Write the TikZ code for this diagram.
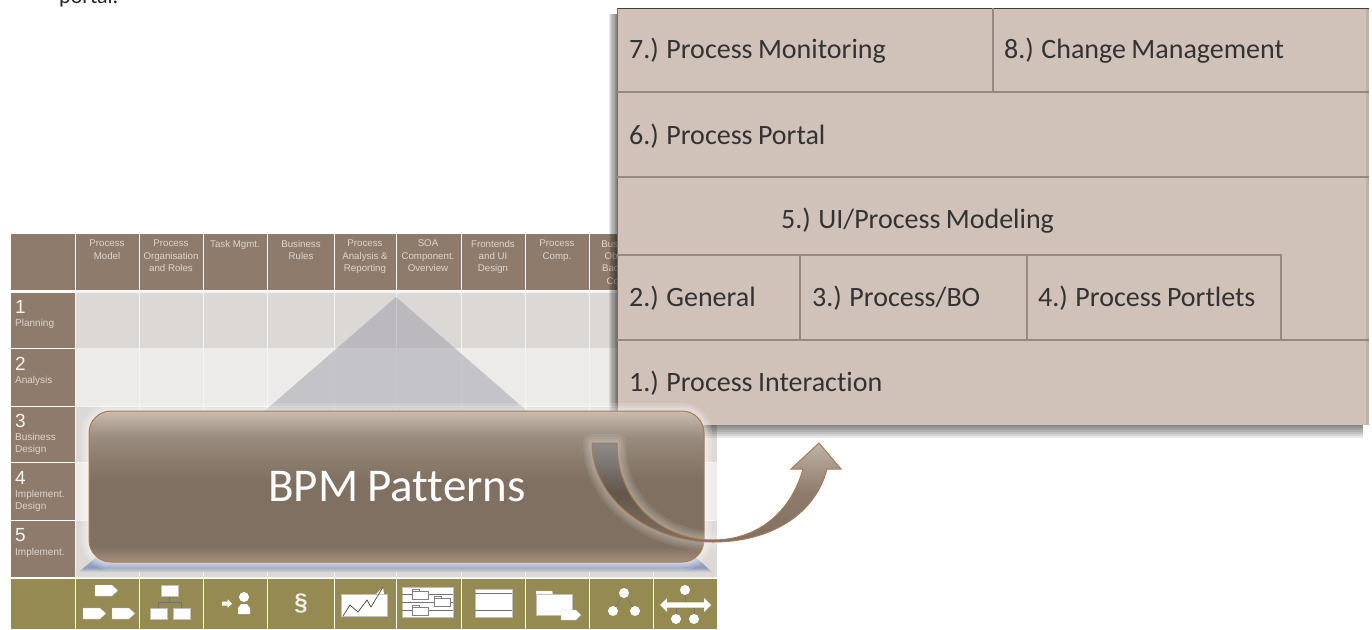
\documentclass[tikz,border=0pt]{standalone}
\usepackage{fontspec}
\setmainfont[Ligatures=NoCommon,WordSpace=0.85]{Carlito}
\newfontfamily\gridfont{Liberation Sans}
\usetikzlibrary{shapes.arrows,shapes.symbols}

\definecolor{headbrown}{HTML}{8F7B6B}
\definecolor{rowdark}{HTML}{DCD8D5}
\definecolor{rowlight}{HTML}{ECEBE9}
\definecolor{rowgap}{HTML}{F4F3F1}
\definecolor{olive}{HTML}{948A52}
\definecolor{panelfill}{HTML}{D0C1B9}
\definecolor{panelline}{HTML}{948A7E}
\definecolor{rimbrown}{HTML}{A87B50}
\definecolor{gridtext}{HTML}{DDD5CD}
\definecolor{pyramid}{HTML}{9C9CA8}
\definecolor{baseblue}{HTML}{8C9ABB}
\definecolor{boxtop}{HTML}{C9BCB1}
\definecolor{boxmid}{HTML}{988A7C}
\definecolor{boxdark}{HTML}{7F7061}
\definecolor{boxlow}{HTML}{A98F7E}

\pgfdeclareverticalshading{boxshade}{100bp}{color(0bp)=(boxlow);color(25bp)=(boxlow);color(30bp)=(boxdark);
  color(52bp)=(boxdark);color(66bp)=(boxmid);color(75bp)=(boxtop);color(100bp)=(boxtop)}
\pgfdeclareverticalshading{archleft}{100bp}{color(0bp)=(boxdark);color(25bp)=(boxdark);
  color(50bp)=(headbrown!70!black);color(75bp)=(black!45);color(100bp)=(black!45)}
\pgfdeclareverticalshading{archright}{100bp}{color(0bp)=(boxdark);color(25bp)=(boxdark);
  color(50bp)=(headbrown);color(75bp)=(boxtop!95!black);color(100bp)=(boxtop!95!black)}
\pgfdeclareverticalshading{baseshade}{100bp}{color(0bp)=(rowdark);color(25bp)=(rowdark);
  color(38bp)=(baseblue);color(75bp)=(baseblue!70!white);color(100bp)=(baseblue!70!white)}

\tikzset{
  headcell/.style={fill=headbrown,draw=none},
  gridlabel/.style={font=\gridfont\fontsize{9.7}{12.3}\selectfont,text=gridtext,align=center,anchor=north,inner sep=0pt},
  rownum/.style={font=\gridfont\fontsize{19}{19}\selectfont,text=white!92!headbrown,anchor=west,inner sep=0pt},
  rowname/.style={font=\gridfont\fontsize{10}{12.3}\selectfont,text=gridtext,align=left,anchor=north west,inner sep=0pt},
  paneltext/.style={font=\fontsize{28}{28}\selectfont,text=black!80,anchor=west,inner sep=0pt},
  panelrule/.style={draw=panelline,line width=1.3pt},
  iconwhite/.style={fill=white,draw=black!25,line width=.4pt},
  iconline/.style={draw=black!55,line width=.5pt},
}

\begin{document}
\begin{tikzpicture}[x=1pt,y=-1pt]
  \clip (0,0) rectangle (1372,629);
  \fill[white] (0,0) rectangle (1372,629);
  \node[font=\fontsize{22}{22}\selectfont,text=black!85,anchor=base west,inner sep=0pt] (portal) at (59,3) {portal.};

  % grid
  \fill[rowgap] (75,291) rectangle (717,578);
  \fill[headcell] (11,234) rectangle (74.5,290);
  \foreach \l/\r in {76/138.5,140/202.5,204/266.5,268/333.5,335/395.5,397/460.5,462/524.5,526/588.5,590/652.5,654/717}{
    \fill[headcell] (\l,234) rectangle (\r,290);
    \fill[rowdark] (\l,293) rectangle (\r,348);
    \fill[rowlight] (\l,348) rectangle (\r,406);
    \fill[rowdark] (\l,406.5) rectangle (\r,462);
    \fill[rowlight] (\l,462.5) rectangle (\r,520);
    \fill[rowdark] (\l,520.5) rectangle (\r,577);
    \fill[olive] (\l,578.5) rectangle (\r,629);
  }
  \fill[olive] (11,578.5) rectangle (74.5,629);
  \foreach \t/\b in {293/348,348.7/406,406.7/462,462.7/520,520.7/577}
    \fill[headcell] (11,\t) rectangle (74.5,\b);

  \node[gridlabel] (hmodel) at (107,240) {Process\\Model};
  \node[gridlabel] (horga) at (171,240) {Process\\Organisation\\and Roles};
  \node[gridlabel] (htask) at (235,240) {Task Mgmt.};
  \node[gridlabel] (hrules) at (301,240) {Business\\Rules};
  \node[gridlabel] (hreport) at (365,240) {Process\\Analysis \&\\Reporting};
  \node[gridlabel] (hsoa) at (428,240) {SOA\\Component.\\Overview};
  \node[gridlabel] (hfront) at (493,240) {Frontends\\and UI\\Design};
  \node[gridlabel] (hcomp) at (557,240) {Process\\Comp.};
  \node[gridlabel] (hback) at (621,240) {Business\\Objects\\Backend\\Comp.};

  \node[rownum] (n1) at (15,307) {1};
  \node[rowname] (r1) at (15,319) {Planning};
  \node[rownum] (n2) at (15,364) {2};
  \node[rowname] (r2) at (15,376) {Analysis};
  \node[rownum] (n3) at (15,421) {3};
  \node[rowname] (r3) at (15,433) {Business\\Design};
  \node[rownum] (n4) at (15,478) {4};
  \node[rowname] (r4) at (15,490) {Implement.\\Design};
  \node[rownum] (n5) at (15,535) {5};
  \node[rowname] (r5) at (15,548) {Implement.};

  % pyramid
  \fill[pyramid,opacity=.5] (396,297) -- (712,572) -- (79,572) -- cycle;
  \shade[shading=baseshade] (99,555) -- (693,555) -- (712,572) -- (79,572) -- cycle;

  % icons
  \foreach \x/\y in {95/585,83/608,112/608}
    \fill[iconwhite] (\x,\y) -- ++(17,0) -- ++(6,5.5) -- ++(-6,5.5) -- ++(-17,0) -- cycle;
  \draw[iconline] (169.5,596) -- (169.5,602) (158,608) -- (158,602) -- (181,602) -- (181,608);
  \fill[iconwhite] (161,585) rectangle (178,596);
  \fill[iconwhite] (150,608) rectangle (167,619);
  \fill[iconwhite] (173,608) rectangle (190,619);
  \node[single arrow,fill=white,draw=none,minimum width=9pt,minimum height=10pt,inner sep=1pt,
    single arrow head extend=1.5pt] (taskarrow) at (226,603.5) {};
  \fill[white] (244,597) circle (5);
  \fill[white] (238,614) -- (238,608) -- (241,604) -- (247,604) -- (250,608) -- (250,614) -- cycle;
  \node[font=\gridfont\bfseries\fontsize{24}{24}\selectfont,text=white!85!olive] (para) at (301,603) {\S};
  \fill[iconwhite] (341,594) rectangle (387,616);
  \fill[white] (376,594) -- (383,587) -- (384,594) -- cycle;
  \draw[olive!50!black,line width=.7pt] (343,616) -- (350,605) -- (358,612) -- (367,600) -- (371,607) -- (383,587);
  \fill[iconwhite] (402,587) rectangle (453,617);
  \foreach \y in {594,602,610}
    \draw[iconline] (402,\y) -- (453,\y);
  \foreach \x/\y in {412/591,434/598,412/607}{
    \fill[iconwhite,draw=black!50] (\x,\y) rectangle ++(16,8);
    \fill[iconwhite,draw=black!50] (\x,\y) rectangle ++(7,-2);
  }
  \fill[iconwhite] (475,589) rectangle (512,617);
  \draw[iconline] (475,593) -- (512,593) (475,610) -- (512,610);
  \fill[iconwhite] (536,594) rectangle (572,615);
  \fill[iconwhite] (536,594) -- (536,591) -- (552,591) -- (553,594) -- cycle;
  \fill[iconwhite] (561,610) -- ++(15,0) -- ++(5,5) -- ++(-5,5) -- ++(-15,0) -- cycle;
  \draw[iconline] (613,611) -- (624,593) -- (635,611);
  \foreach \x/\y in {624/593,613/611,635/611}
    \fill[white] (\x,\y) circle (5);
  \draw[iconline] (685,590) -- (685,605) (676,619) -- (676,605) (694,619) -- (694,605);
  \node[double arrow,fill=white,draw=none,minimum width=14pt,minimum height=51pt,inner sep=1pt,
    double arrow head extend=2pt] (flowarrow) at (685.5,605) {};
  \foreach \x/\y in {685/590,676/619,694/619}
    \fill[white] (\x,\y) circle (5);

  % panel shadow
  \foreach \d in {13,11,9,7,5,3,1}
    \fill[black,opacity=.085] (617-\d*.65,14) rectangle (1363,425+\d);

  % panel
  \fill[panelfill] (617,8) rectangle (1369,425);
  \fill[panelfill!92!black] (1366,8) rectangle (1369,425);
  \draw[black!55!panelline,line width=.8pt] (617,8) -- (1369,8);
  \draw[panelline!80!black,line width=.8pt] (617,8) -- (617,425);
  \draw[panelrule] (617,92) -- (1369,92);
  \draw[panelrule] (617,177) -- (1369,177);
  \draw[panelrule] (617,340) -- (1369,340);
  \draw[panelrule] (993,8) -- (993,92);
  \draw[panelrule] (617,255) -- (1281,255) -- (1281,340);
  \draw[panelrule] (800,255) -- (800,340);
  \draw[panelrule] (1027,255) -- (1027,340);
  \node[paneltext] (monitor) at (629,51) {7.) Process Monitoring};
  \node[paneltext] (change) at (1004,51) {8.) Change Management};
  \node[paneltext] (portalbox) at (629,136) {6.) Process Portal};
  \node[paneltext] (uimodel) at (781,221) {5.) UI/Process Modeling};
  \node[paneltext] (general) at (629,298) {2.) General};
  \node[paneltext] (bo) at (812,298) {3.) Process/BO};
  \node[paneltext] (portlets) at (1038,298) {4.) Process Portlets};
  \node[paneltext] (interact) at (629,383) {1.) Process Interaction};

  % big box
  \foreach \w in {16,11,7,3}
    \draw[white,opacity=.16,line width=\w pt,rounded corners=22pt] (89,411) rectangle (704,562);
  \draw[rimbrown,line width=1pt,rounded corners=22pt,shading=boxshade] (89,411) rectangle (704,562);
  \node[font=\fontsize{47}{47}\selectfont,text=white,inner sep=0pt] (title) at (397,487) {BPM Patterns};

  % arrow
  \foreach \w in {18,13,8,4}
    \draw[white,opacity=.09,line width=\w pt,line join=round]
      (592,443) .. controls (592,500) and (650,542) .. (713,542)
      .. controls (770,542) and (815,515) .. (827,469) -- (841,469) -- (819,443) -- (791,469) -- (803,469)
      .. controls (790,515) and (755,540) .. (713,540)
      .. controls (665,540) and (617,505) .. (617,443) -- cycle;
  \shade[shading=archleft] (592,443) .. controls (592,500) and (650,542) .. (713,542)
    -- (713,540) .. controls (665,540) and (617,505) .. (617,443) -- cycle;
  \shade[shading=archright] (713,542) .. controls (770,542) and (815,515) .. (827,469)
    -- (841,469) -- (819,443) -- (791,469) -- (803,469)
    .. controls (790,515) and (755,540) .. (713,540) -- cycle;
  \draw[rimbrown,line width=1pt,line join=miter]
    (592,443) .. controls (592,500) and (650,542) .. (713,542)
    .. controls (770,542) and (815,515) .. (827,469) -- (841,469) -- (819,443) -- (791,469) -- (803,469)
    .. controls (790,515) and (755,540) .. (713,540)
    .. controls (665,540) and (617,505) .. (617,443) -- cycle;
\end{tikzpicture}
\end{document}
